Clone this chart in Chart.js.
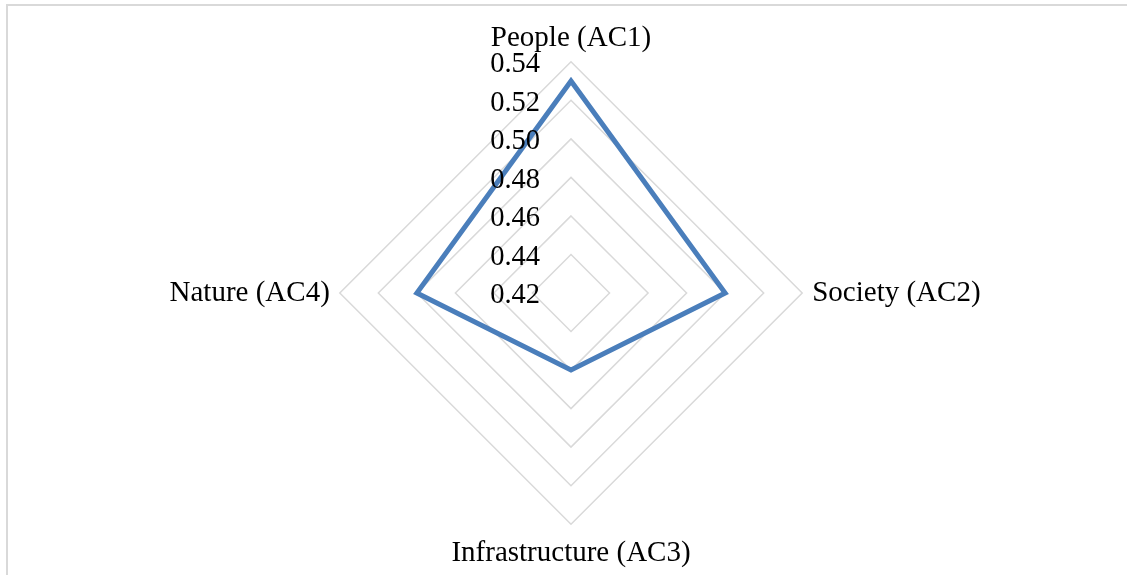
<!DOCTYPE html>
<html>
<head>
<meta charset="utf-8">
<title>Radar chart</title>
<script src="https://cdn.jsdelivr.net/npm/chart.js@4/dist/chart.umd.min.js"></script>
<style>
  html, body { margin: 0; padding: 0; background: #fff; }
  .frame { position: relative; width: 1127px; height: 575px; overflow: hidden; }
  .edge {
    position: absolute; left: 6px; top: 4px; width: 1200px; height: 700px;
    border-top: 2px solid #d9d9d9; border-left: 2px solid #d9d9d9;
  }
  .frame canvas { position: absolute; left: 0; top: 0; }
</style>
</head>
<body>
<div class="frame">
  <div class="edge"></div>
  <canvas id="chart" width="1127" height="575"></canvas>
</div>
<script>
const categories = ["People (AC1)", "Society (AC2)", "Infrastructure (AC3)", "Nature (AC4)"]
const scores = [0.53, 0.50, 0.46, 0.50]
const axisMin = 0.42
const axisMax = 0.54
const axisStep = 0.02

const serif = "'Liberation Serif', 'Times New Roman', serif"

// gap between ring and category label, per axis (top, right, bottom, left)
const labelGaps = [6, 10, 12, 10]

// tick labels sit to the left of the vertical axis, centred on each ring
const sideTicks = {
  id: "sideTicks",
  afterDraw(chart) {
    const scale = chart.scales.r
    const ctx = chart.ctx
    ctx.save()
    ctx.font = "28.5px " + serif
    ctx.fillStyle = "#000"
    ctx.textAlign = "right"
    ctx.textBaseline = "middle"
    scale.ticks.forEach((tick) => {
      const dist = scale.getDistanceFromCenterForValue(tick.value)
      ctx.fillText(tick.value.toFixed(2), scale.xCenter - 31, scale.yCenter - dist + 3)
    })
    ctx.restore()
  },
}

new Chart(document.getElementById("chart").getContext("2d"), {
  type: "radar",
  data: {
    labels: categories,
    datasets: [
      {
        label: "Score",
        data: scores,
        borderColor: "#4a7ebb",
        borderWidth: 5,
        fill: false,
        pointRadius: 0,
        pointHoverRadius: 0,
        tension: 0,
      },
    ],
  },
  options: {
    responsive: false,
    animation: false,
    layout: { padding: { top: 18, bottom: 1, left: 15, right: 0 } },
    plugins: {
      legend: { display: false },
      tooltip: { enabled: false },
    },
    scales: {
      r: {
        min: axisMin,
        max: axisMax,
        ticks: { stepSize: axisStep, display: false },
        grid: { color: "#d9d9d9", lineWidth: 1.5 },
        angleLines: { display: false },
        pointLabels: {
          color: "#000",
          padding: (ctx) => labelGaps[ctx.index],
          font: { family: serif, size: 29 },
        },
      },
    },
  },
  plugins: [sideTicks],
})
</script>
</body>
</html>
